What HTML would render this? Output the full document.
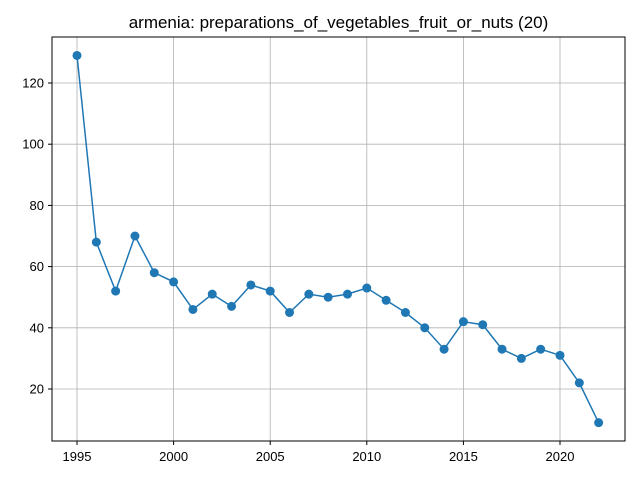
<!DOCTYPE html>
<html><head><meta charset="utf-8"><style>
body{margin:0;background:#fff;}
svg{display:block;font-family:"Liberation Sans","DejaVu Sans",sans-serif;}
</style></head><body>
<svg id="chart" width="640" height="480">
<rect x="0" y="0" width="640" height="480" fill="#fff"/>
<text x="338.5" y="28" font-size="17" text-anchor="middle">armenia: preparations_of_vegetables_fruit_or_nuts (20)</text>
<g id="grid"></g><g id="ticks"></g><g id="series"></g>
<rect x="52" y="37" width="573" height="404" fill="none" stroke="#000" stroke-width="1"/>
</svg>
<script>
const years=[1995,1996,1997,1998,1999,2000,2001,2002,2003,2004,2005,2006,2007,2008,2009,2010,2011,2012,2013,2014,2015,2016,2017,2018,2019,2020,2021,2022];
const values=[129,68,52,70,58,55,46,51,47,54,52,45,51,50,51,53,49,45,40,33,42,41,33,30,33,31,22,9];
const xTicks=[1995,2000,2005,2010,2015,2020];
const yTicks=[20,40,60,80,100,120];
const NS="http://www.w3.org/2000/svg";
function sx(v){return 77+(v-1995)*(560-77)/25;}
function sy(v){return 389-(v-20)*(389-83)/100;}
function mk(tag,attrs,parent){const e=document.createElementNS(NS,tag);for(const k in attrs)e.setAttribute(k,attrs[k]);document.getElementById(parent).appendChild(e);return e;}
xTicks.forEach(t=>{const x=sx(t);
 const g=mk('line',{x1:x,x2:x,y1:37,y2:441,stroke:'#b0b0b0','stroke-width':0.8},'grid');
 
 
 mk('line',{x1:x,x2:x,y1:441,y2:445,stroke:'#000'},'ticks');
 const l=mk('text',{x:x,y:461,'font-size':13,'text-anchor':'middle'},'ticks');l.textContent=t;
 
 
});
yTicks.forEach(t=>{const y=sy(t);
 const g=mk('line',{x1:52,x2:625,y1:y,y2:y,stroke:'#b0b0b0','stroke-width':0.8},'grid');
 
 
 mk('line',{x1:48,x2:52,y1:y,y2:y,stroke:'#000'},'ticks');
 const l=mk('text',{x:44,y:y+4.5,'font-size':13,'text-anchor':'end'},'ticks');l.textContent=t;
 
 
});
const pts=years.map((y,i)=>sx(y)+','+sy(values[i])).join(' ');
const line=mk('polyline',{points:pts,fill:'none',stroke:'#1f77b4','stroke-width':1.5},'series');


years.forEach((y,i)=>{const c=mk('circle',{cx:sx(y),cy:sy(values[i]),r:4.5,fill:'#1f77b4'},'series');
 
 
});
</script>
</body></html>
